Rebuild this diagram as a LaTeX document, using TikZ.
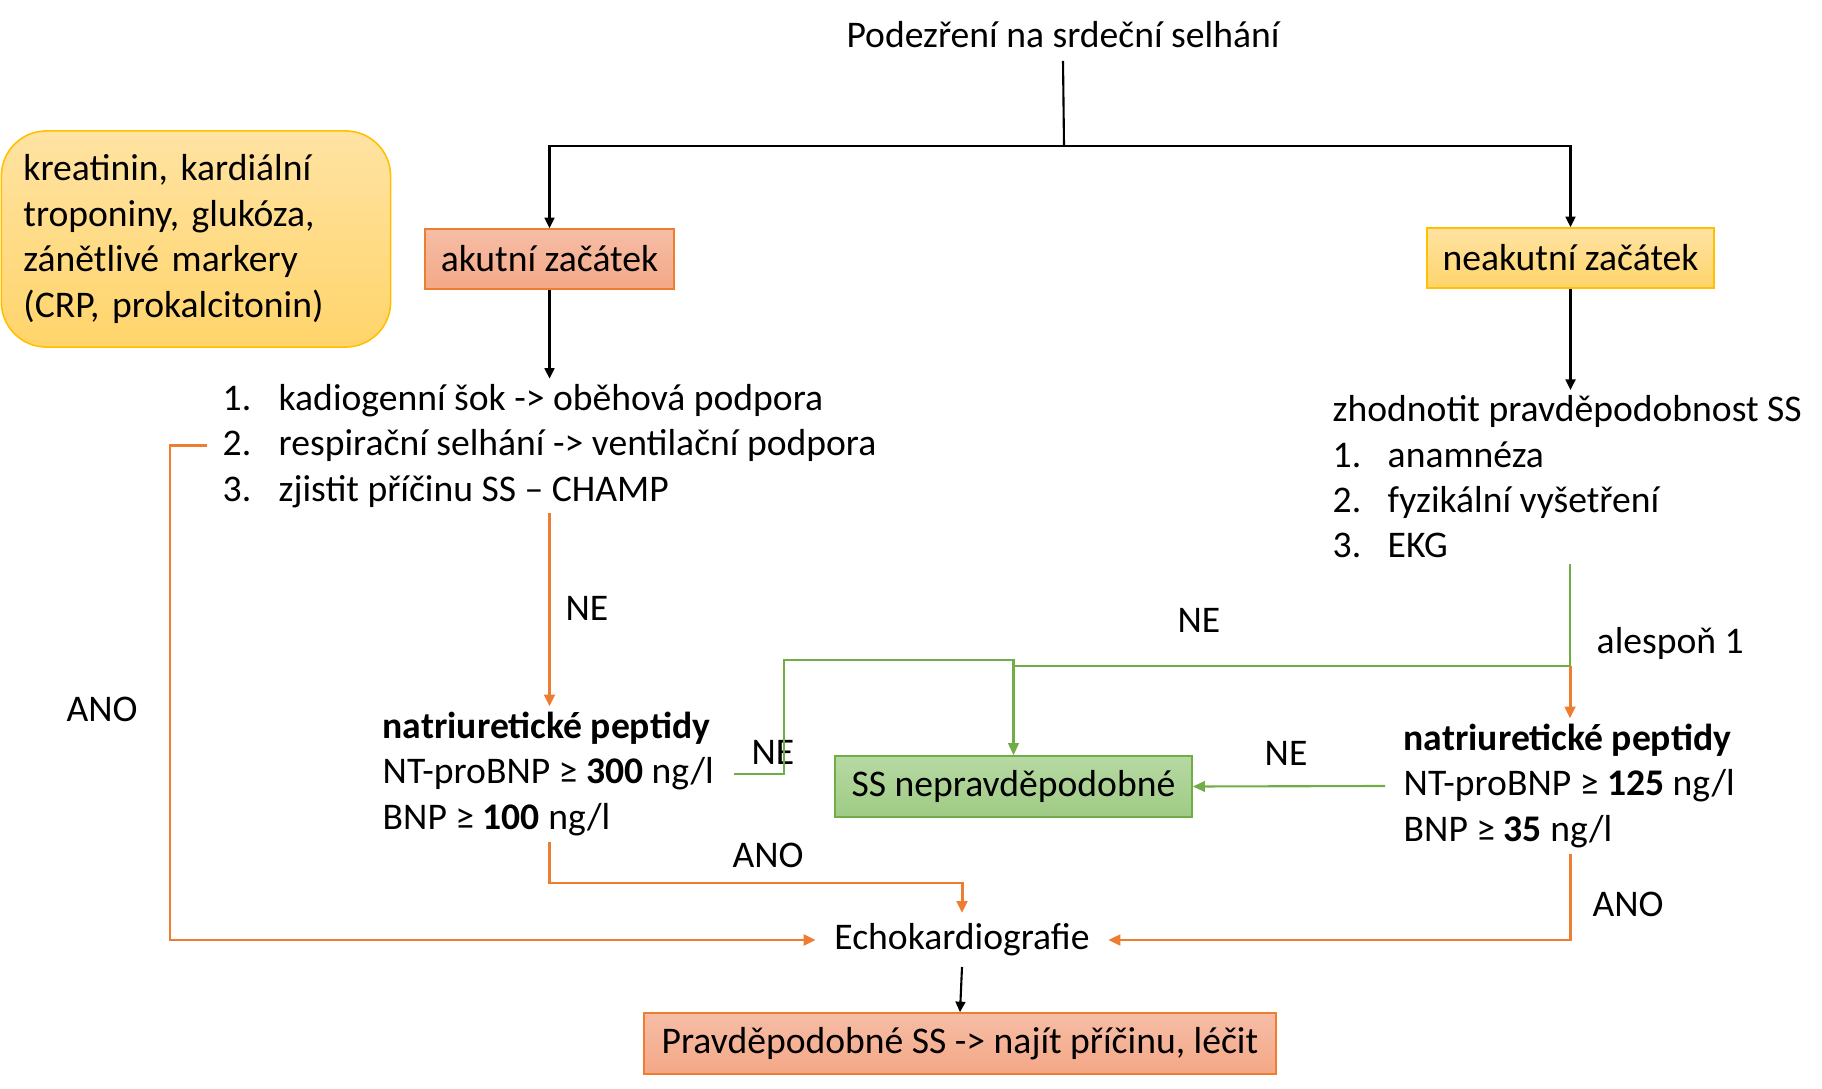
\documentclass[tikz,border=0pt]{standalone}
\usepackage{fontspec}
\setmainfont{Carlito}
\usepackage{tikz}
\usetikzlibrary{calc,arrows.meta}
\definecolor{ink}{HTML}{000000}
\definecolor{orln}{HTML}{ED7D31}
\definecolor{grln}{HTML}{70AD47}
\definecolor{gold}{HTML}{FFC000}
\definecolor{salmtop}{HTML}{F6BDA6}
\definecolor{salmbot}{HTML}{F4A886}
\definecolor{yeltop}{HTML}{FFE3A3}
\definecolor{yelbot}{HTML}{FFD46A}
\definecolor{grntop}{HTML}{B7D9A3}
\definecolor{grnbot}{HTML}{9FCB85}
\tikzset{
  txt/.style={font=\fontsize{10.7}{12.9}\selectfont, inner sep=0.05cm},
  lst/.style={txt, align=left},
  acute/.style={txt, draw=orln, line width=0.45pt, top color=salmtop, bottom color=salmbot, minimum height=0.6cm},
  chronic/.style={txt, draw=gold, line width=0.45pt, top color=yeltop, bottom color=yelbot, minimum height=0.6cm},
  unlikely/.style={txt, draw=grln, line width=0.45pt, top color=grntop, bottom color=grnbot, minimum height=0.61cm},
  labbox/.style={txt, draw=gold, line width=0.45pt, top color=yeltop, bottom color=yelbot, rounded corners=0.45cm, align=left},
  blkln/.style={draw=ink, line width=0.6pt},
  blk/.style={blkln, -{Triangle[length=3pt,width=2.8pt]}},
  orng/.style={draw=orln, line width=0.85pt, -{Triangle[length=3.4pt,width=3pt]}},
  grnln/.style={draw=grln, line width=0.7pt},
  grn/.style={draw=grln, line width=0.6pt, -{Triangle[length=3.4pt,width=3pt]}},
}
\begin{document}
\begin{tikzpicture}[x=0.01cm,y=-0.01cm]
  \useasboundingbox (0,0) rectangle (1822,1089);
  % boxes
  \node[txt, inner ysep=0.12cm] (title) at (1063,35) {Podezření na srdeční selhání};
  \node[acute, minimum width=2.49cm] (akut) at (549.5,259) {akutní začátek};
  \node[chronic, minimum width=2.87cm] (neakut) at (1570.5,258) {neakutní začátek};
  \node[labbox, text width=3.45cm, inner xsep=0.22cm, minimum height=2.16cm] (lab) at (196,239)
    {kreatinin, kardiální\\troponiny, glukóza,\\zánětlivé markery\\(CRP, prokalcitonin)};
  \node[lst, anchor=west, inner xsep=0.15cm] (acutelist) at (207,446)
    {\makebox[0.56cm][l]{1.}kadiogenní šok -> oběhová podpora\\
     \makebox[0.56cm][l]{2.}respirační selhání -> ventilační podpora\\
     \makebox[0.56cm][l]{3.}zjistit příčinu SS – CHAMP};
  \node[lst, anchor=west] (rlist) at (1327,477)
    {zhodnotit pravděpodobnost SS\\
     \makebox[0.55cm][l]{1.}anamnéza\\
     \makebox[0.55cm][l]{2.}fyzikální vyšetření\\
     \makebox[0.55cm][l]{3.}EKG};
  \node[lst, anchor=west, inner xsep=0.2cm] (natL) at (362,774)
    {\textbf{natriuretické peptidy}\\NT-proBNP ≥ \textbf{300} ng/l\\BNP ≥ \textbf{100} ng/l};
  \node[lst, anchor=west, inner xsep=0.18cm] (natR) at (1385,786)
    {\textbf{natriuretické peptidy}\\NT-proBNP ≥ \textbf{125} ng/l\\BNP ≥ \textbf{35} ng/l};
  \node[unlikely, minimum width=3.57cm] (ss) at (1013.5,786.5) {SS nepravděpodobné};
  \node[txt, inner xsep=0.18cm, inner ysep=0.1cm] (echo) at (962,940) {Echokardiografie};
  \node[acute, minimum width=6.32cm, minimum height=0.61cm] (final) at (960,1043.5)
    {Pravděpodobné SS -> najít příčinu, léčit};
  % labels
  \node[txt] (anoA) at (102,709) {ANO};
  \node[txt] (anoB) at (768,855) {ANO};
  \node[txt] (anoC) at (1628,904) {ANO};
  \node[txt] (neA) at (587,608) {NE};
  \node[txt] (neB) at (773,752) {NE};
  \node[txt] (neC) at (1199,620) {NE};
  \node[txt] (neD) at (1286,753) {NE};
  \node[txt, anchor=west] (alespon) at (1591,643) {alespoň 1};
  % black connectors
  \coordinate (split) at (1064,146);
  \draw[blkln] (title.south) -- (split);
  \draw[blk] (split) -| (akut.north);
  \draw[blk] (split) -| (neakut.north);
  \draw[blk] (akut.south) -- (akut.south |- acutelist.north);
  \draw[blk] (neakut.south) -- (neakut.south |- rlist.north);
  \draw[blk] (echo.south) -- (final.north);
  % orange connectors
  \draw[orng] (acutelist.west) -- ++(-37,0) |- (echo.west);
  \draw[orng] (akut.south |- acutelist.south) -- (akut.south |- natL.north);
  \draw[orng] (natL.south -| akut.south) |- ($(echo.north)+(0,-30)$) -- (echo.north);
  % green connectors
  \draw[grn] (natL.east) -- ++(50,0) |- ($(ss.north)+(0,-95)$) -- (ss.north);
  \coordinate (fork) at (1570,666);
  \draw[grnln] (rlist.south -| fork) -- (fork);
  \draw[grnln] (fork) -- (fork -| ss.north);
  \draw[orng] (fork) -- (fork |- natR.north);
  \draw[grn] (natR.west) -- (ss.east);
  \draw[orng] (natR.south -| fork) |- (echo.east);
\end{tikzpicture}
\end{document}
